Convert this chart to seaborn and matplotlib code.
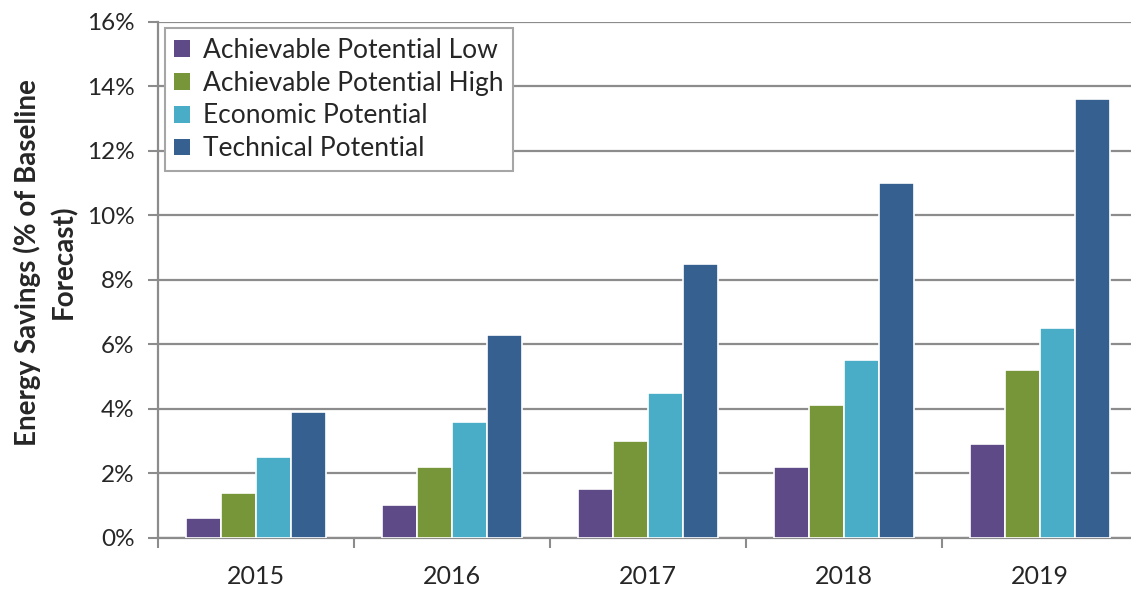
import matplotlib
matplotlib.use("Agg")
import matplotlib.pyplot as plt
from matplotlib.ticker import PercentFormatter, FixedLocator
import seaborn as sns
import pandas as pd

years = ["2015", "2016", "2017", "2018", "2019"]
series = ["Achievable Potential Low", "Achievable Potential High",
          "Economic Potential", "Technical Potential"]
achievable_low = [0.006, 0.010, 0.015, 0.022, 0.029]
achievable_high = [0.014, 0.022, 0.030, 0.041, 0.052]
economic = [0.025, 0.036, 0.045, 0.055, 0.065]
technical = [0.039, 0.063, 0.085, 0.110, 0.136]
colors = ["#5e4a86", "#77963a", "#4aadc8", "#35608f"]

values = [achievable_low, achievable_high, economic, technical]
df = pd.DataFrame({
    "Year": [y for _ in series for y in years],
    "Series": [s for s in series for _ in years],
    "Savings": [v for vals in values for v in vals],
})

sns.set_style("white")
plt.rcParams["font.family"] = ["Lato", "DejaVu Sans"]

fig = plt.figure(figsize=(11.31, 5.89), dpi=100)
ax = fig.add_axes([158 / 1131, 1 - 537.7 / 589, 980 / 1131, (537.7 - 21.7) / 589])

sns.barplot(data=df, x="Year", y="Savings", hue="Series", hue_order=series,
            palette=colors, width=0.714, edgecolor="white", linewidth=1.2,
            saturation=1, ax=ax, zorder=3)

grid_c = "#8c8c8c"
ax.set_ylim(0, 0.16)
ax.set_xlim(-0.5, 4.5)
ax.set_yticks([i * 0.02 for i in range(9)])
ax.yaxis.set_major_formatter(PercentFormatter(1.0, decimals=0))
ax.yaxis.grid(True, color=grid_c, linewidth=1.6, zorder=0)
ax.set_axisbelow(True)

ax.xaxis.set_minor_locator(FixedLocator([i - 0.5 for i in range(6)]))
ax.tick_params(axis="x", which="major", length=0, labelsize=18, pad=20)
ax.tick_params(axis="x", which="minor", length=7, width=1.5, color=grid_c,
               direction="out", bottom=True)
ax.tick_params(axis="y", which="major", length=7, width=1.5, color=grid_c,
               direction="out", left=True, labelsize=17.5, pad=10)

for side in ["top", "right"]:
    ax.spines[side].set_visible(False)
for side in ["left", "bottom"]:
    ax.spines[side].set_color(grid_c)
    ax.spines[side].set_linewidth(1.6)

ax.set_xlabel("")
ax.set_ylabel("Energy Savings (% of Baseline\nForecast)", fontsize=20,
              fontweight="bold", linespacing=1.45)
ax.yaxis.label.set_va("center")
ax.yaxis.set_label_coords(-0.115, 0.534)

leg = ax.legend(loc="upper left", bbox_to_anchor=(0.007, 0.987),
                borderaxespad=0, fontsize=19, frameon=True, fancybox=False,
                edgecolor="#a6a6a6", framealpha=1, handlelength=0.6,
                handleheight=0.6, handletextpad=0.5, labelspacing=0.3,
                borderpad=0.35)
leg.get_frame().set_linewidth(1.5)
for h in leg.legend_handles:
    h.set_linewidth(0)

fig.savefig("out.png", dpi=100)
